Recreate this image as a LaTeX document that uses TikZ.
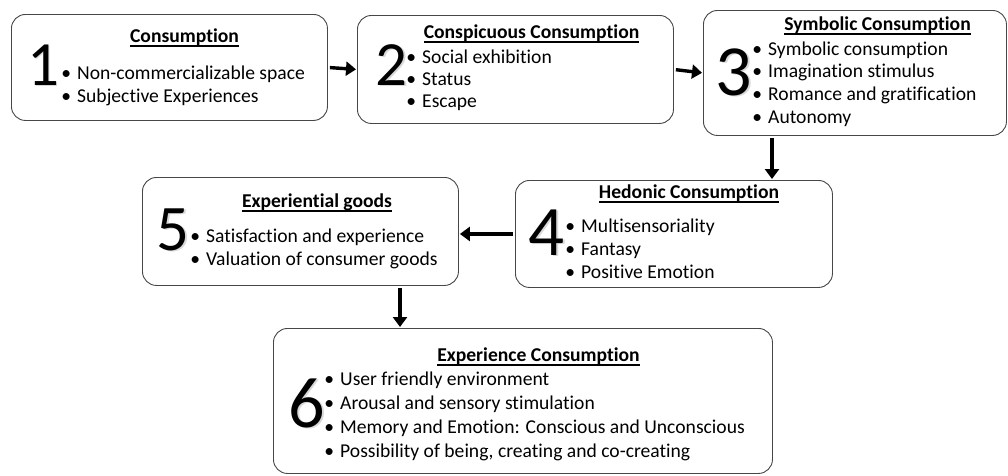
\documentclass[tikz,border=0pt]{standalone}
\usepackage{fontspec}
\setmainfont{Carlito}[Ligatures=NoCommon]
\usetikzlibrary{arrows.meta}
\newcommand\myul[1]{\setbox0\hbox{#1}\rlap{\rule[-4.6pt]{\wd0}{1.2pt}}\box0}
\newcommand\bul{\llap{\makebox[22pt][c]{•}}}
\begin{document}
\begin{tikzpicture}[x=1pt,y=-1pt,
  box/.style={draw=black!72, line width=0.9pt, rounded corners=14pt, anchor=north west, inner sep=0pt, fill=white},
  ttl/.style={anchor=base, inner sep=0pt, font=\fontsize{19.6}{23}\selectfont\bfseries},
  itm/.style={anchor=base west, inner sep=0pt, font=\fontsize{19.6}{23}\selectfont},
  num/.style={anchor=base, inner sep=0pt},
  numshadow/.style={anchor=base, inner sep=0pt, text=black, opacity=0.15},
  arr/.style={draw=black, line width=3.4pt, -{Triangle[length=10pt,width=14pt]}, shorten >=1pt, shorten <=2pt}
]
\useasboundingbox (0,0) rectangle (1008,475);
% boxes
\node[box, minimum width=316pt, minimum height=106pt] (b1) at (11,14) {};
\node[box, minimum width=316pt, minimum height=108pt] (b2) at (357,15) {};
\node[box, minimum width=303pt, minimum height=125pt] (b3) at (703,10) {};
\node[box, minimum width=317pt, minimum height=107pt] (b4) at (515,180) {};
\node[box, minimum width=316pt, minimum height=108pt] (b5) at (142,177) {};
\node[box, minimum width=499pt, minimum height=145pt] (b6) at (273,328) {};
% number shadows
\node[numshadow, font=\fontsize{63}{63}\selectfont] (s1) at (44.5,86.5) {1};
\node[numshadow, font=\fontsize{63}{63}\selectfont] (s2) at (393,86.5) {2};
\node[numshadow, font=\fontsize{72}{72}\selectfont] (s3) at (735.5,96.5) {3};
\node[numshadow, font=\fontsize{71}{71}\selectfont] (s4) at (548,256.5) {4};
\node[numshadow, font=\fontsize{65}{65}\selectfont] (s5) at (174.5,251.5) {5};
\node[numshadow, font=\fontsize{72}{72}\selectfont] (s6) at (308.5,428.5) {6};
% numbers
\node[num, font=\fontsize{63}{63}\selectfont] (n1) at (43,85) {1};
\node[num, font=\fontsize{63}{63}\selectfont] (n2) at (391.5,85) {2};
\node[num, font=\fontsize{72}{72}\selectfont] (n3) at (734,95) {3};
\node[num, font=\fontsize{71}{71}\selectfont] (n4) at (546.5,255) {4};
\node[num, font=\fontsize{65}{65}\selectfont] (n5) at (173,250) {5};
\node[num, font=\fontsize{72}{72}\selectfont] (n6) at (307,427) {6};
% titles
\node[ttl] (t1) at (184.5,42) {\myul{Consumption}};
\node[ttl] (t2) at (531.5,38) {\myul{Conspicuous Consumption}};
\node[ttl] (t3) at (877.5,30) {\myul{Symbolic Consumption}};
\node[ttl] (t4) at (689,198) {\myul{Hedonic Consumption}};
\node[ttl] (t5) at (317,207) {\myul{Experiential goods}};
\node[ttl] (t6) at (538.5,361) {\myul{Experience Consumption}};
% items
\node[itm] (i11) at (77,79) {\bul Non-commercializable space};
\node[itm] (i12) at (77,102) {\bul Subjective Experiences};
\node[itm] (i21) at (422,63) {\bul Social exhibition};
\node[itm] (i22) at (422,85) {\bul Status};
\node[itm] (i23) at (422,107) {\bul Escape};
\node[itm] (i31) at (768,55) {\bul Symbolic consumption};
\node[itm] (i32) at (768,77) {\bul Imagination stimulus};
\node[itm] (i33) at (768,100) {\bul Romance and gratification};
\node[itm] (i34) at (768,123) {\bul Autonomy};
\node[itm] (i41) at (581,232) {\bul Multisensoriality};
\node[itm] (i42) at (581,255) {\bul Fantasy};
\node[itm] (i43) at (581,278) {\bul Positive Emotion};
\node[itm] (i51) at (206,242) {\bul Satisfaction and experience};
\node[itm] (i52) at (206,265) {\bul Valuation of consumer goods};
\node[itm] (i61) at (340,385) {\bul User friendly environment};
\node[itm] (i62) at (340,409) {\bul Arousal and sensory stimulation};
\node[itm] (i63) at (340,433) {\bul Memory and Emotion: Conscious and Unconscious};
\node[itm] (i64) at (340,457) {\bul Possibility of being, creating and co-creating};
% arrows
\draw[arr] (b1.east) -- (b2.west);
\draw[arr] (b2.east) -- (b3.west);
\draw[arr] ([xshift=69pt]b3.south west) -- ([xshift=257pt]b4.north west);
\draw[arr] (b4.west) -- (b4.west -| b5.east);
\draw[arr] ([xshift=258pt]b5.south west) -- ([xshift=127pt]b6.north west);
\end{tikzpicture}
\end{document}
